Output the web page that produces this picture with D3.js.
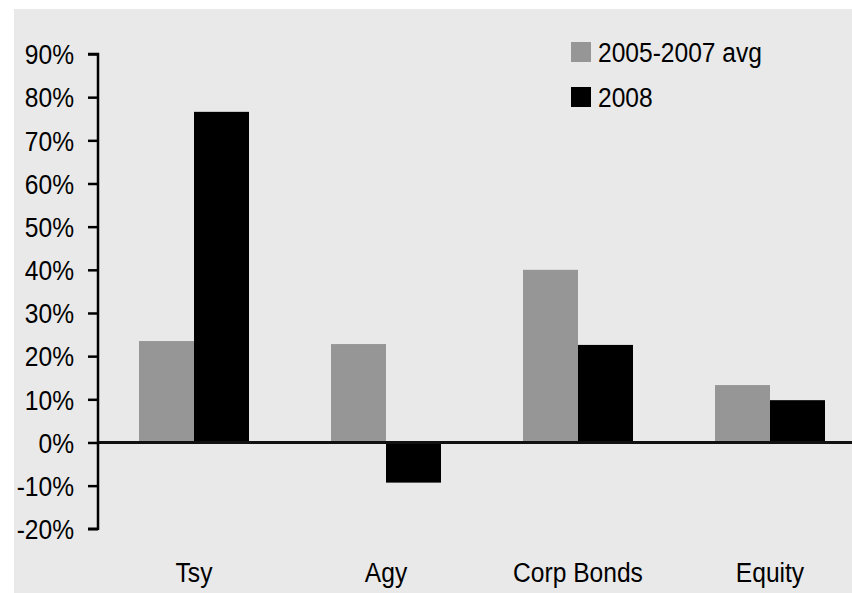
<!DOCTYPE html>
<html>
<head>
<meta charset="utf-8">
<script src="https://cdn.jsdelivr.net/npm/d3@7"></script>
<style>
  html, body { margin: 0; padding: 0; background: #ffffff; }
  svg { display: block; }
  text { font-family: "Liberation Sans Narrow", "Arial Narrow", "Liberation Sans", Arial, sans-serif; fill: #000; }
</style>
</head>
<body>
<svg id="chart" width="852" height="593"></svg>
<script>
// Share of holdings change by asset class
const categories = ["Tsy", "Agy", "Corp Bonds", "Equity"];
const seriesNames = ["2005-2007 avg", "2008"];
const avg0507 = [23.5, 22.8, 40.0, 13.3];
const y2008 = [76.6, -9.3, 22.6, 9.8];
const yTicks = [-20, -10, 0, 10, 20, 30, 40, 50, 60, 70, 80, 90];
const colors = ["#969696", "#000000"];

const W = 852, H = 593;
const FS = "27px";
const svg = d3.select("#chart");

// narrow the regular sans face to a condensed look
function condense(sel) {
  sel.each(function () {
    const w = this.getComputedTextLength();
    d3.select(this).attr("textLength", w * 0.91).attr("lengthAdjust", "spacingAndGlyphs");
  });
}

// panel background
svg.append("rect").attr("x", 14).attr("y", 9).attr("width", W - 14).attr("height", H - 9).attr("fill", "#e9e9e9");

const axisX = 98;
const y = d3.scaleLinear().domain([-20, 90]).range([528.8, 54]);
const x = d3.scaleBand().domain(categories).range([axisX, axisX + 192 * 4]).paddingInner(0).paddingOuter(0);
const xs = d3.scaleBand().domain(seriesNames).range([0, 192]).paddingInner(0).paddingOuter(0.7455);

const series = [avg0507, y2008];

// bars
series.forEach((vals, si) => {
  svg.append("g").selectAll("rect").data(categories).join("rect")
    .attr("x", (c) => x(c) + xs(seriesNames[si]))
    .attr("width", xs.bandwidth())
    .attr("y", (c, i) => y(Math.max(0, vals[i])))
    .attr("height", (c, i) => Math.abs(y(vals[i]) - y(0)))
    .attr("fill", colors[si]);
});

// zero line
svg.append("line").attr("x1", axisX).attr("x2", W).attr("y1", y(0)).attr("y2", y(0))
  .attr("stroke", "#111").attr("stroke-width", 3);

// y axis
const yAxis = d3.axisLeft(y).tickValues(yTicks).tickSize(10).tickPadding(14)
  .tickFormat((d) => d + "%");
const ga = svg.append("g").attr("transform", `translate(${axisX},0)`).call(yAxis);
ga.select(".domain").attr("stroke", "#000").attr("stroke-width", 2.5)
  .attr("d", `M-10,${y(90)}H0V${y(-20)}H-10`);
ga.selectAll(".tick line").attr("stroke", "#000").attr("stroke-width", 2.5);
ga.selectAll(".tick text").style("font-size", FS).attr("dy", "0.36em").call(condense);

// category labels
svg.append("g").selectAll("text").data(categories).join("text")
  .attr("x", (c) => x(c) + x.bandwidth() / 2)
  .attr("y", 582)
  .attr("text-anchor", "middle")
  .style("font-size", FS)
  .text((c) => c)
  .call(condense);

// legend
const lg = svg.append("g").attr("transform", "translate(571,42)");
seriesNames.forEach((n, i) => {
  lg.append("rect").attr("x", 0).attr("y", i * 45).attr("width", 20).attr("height", 20).attr("fill", colors[i]);
  lg.append("text").attr("x", 27).attr("y", i * 45 + 20).style("font-size", FS).text(n).call(condense);
});
</script>
</body>
</html>
